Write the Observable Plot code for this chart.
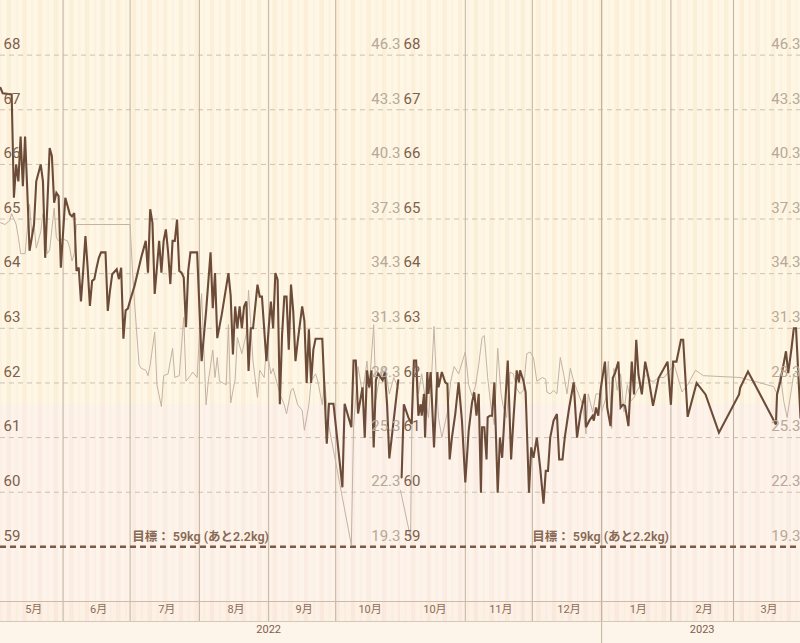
<!DOCTYPE html>
<html>
<head>
<meta charset="utf-8">
<script src="https://cdn.jsdelivr.net/npm/d3@7"></script>
<script src="https://cdn.jsdelivr.net/npm/@observablehq/plot@0.6"></script>
<style>
  html, body { margin: 0; padding: 0; background: #ffffff; }
  #wrap { display: flex; width: 800px; height: 643px; overflow: hidden; }
  #wrap > div { width: 400px; height: 643px; }
</style>
</head>
<body>
<div id="wrap"><div id="left"></div><div id="right"></div></div>
<script>
// ---------- data ----------
const kgTicks = [59, 60, 61, 62, 63, 64, 65, 66, 67, 68];
const fatTicks = [19.3, 22.3, 25.3, 28.3, 31.3, 34.3, 37.3, 40.3, 43.3, 46.3];
const goalKg = 59;
const goalLabel = "目標： 59kg (あと2.2kg)";
const zoneTopKg = 61.6;
const domainLeft = ["2022-05-04", "2022-10-30"];
const domainRight = ["2022-10-03", "2023-03-31"];
const yearLabelsLeft = [["2022-09-01", "2022"]];
const yearLabelsRight = [["2023-02-15", "2023"]];

// weight (kg), left screenshot
const weightLeft = [
["2022-05-04",67.4],["2022-05-05",67.3],["2022-05-09",67.28],["2022-05-10",65.39],["2022-05-11",66.0],["2022-05-12",65.69],["2022-05-13",66.51],["2022-05-14",65.6],["2022-05-15",66.51],["2022-05-16",65.51],["2022-05-17",64.42],["2022-05-19",64.9],["2022-05-20",65.69],["2022-05-22",66.0],["2022-05-23",65.69],["2022-05-24",64.29],["2022-05-26",66.3],["2022-05-27",66.15],["2022-05-28",65.3],["2022-05-29",65.48],["2022-05-30",65.42],["2022-05-31",64.11],["2022-06-02",65.39],["2022-06-04",65.09],["2022-06-05",65.05],["2022-06-06",65.11],["2022-06-07",64.05],["2022-06-08",64.11],["2022-06-09",63.49],["2022-06-10",64.05],["2022-06-11",64.69],["2022-06-12",64.11],["2022-06-13",63.41],["2022-06-14",63.87],["2022-06-15",63.9],["2022-06-16",64.11],["2022-06-17",64.29],["2022-06-18",64.39],["2022-06-20",64.39],["2022-06-21",63.32],["2022-06-22",63.69],["2022-06-23",63.99],["2022-06-25",64.08],["2022-06-26",63.9],["2022-06-27",64.11],["2022-06-28",62.81],["2022-06-29",63.33],["2022-06-30",63.36],["2022-07-01",63.51],["2022-07-03",63.78],["2022-07-06",64.3],["2022-07-08",64.6],["2022-07-09",64.02],["2022-07-10",65.18],["2022-07-11",64.93],["2022-07-12",63.63],["2022-07-14",64.6],["2022-07-15",64.02],["2022-07-16",64.6],["2022-07-17",64.81],["2022-07-18",64.4],["2022-07-19",63.81],["2022-07-20",64.6],["2022-07-21",64.6],["2022-07-22",64.99],["2022-07-23",64.05],["2022-07-24",64.02],["2022-07-25",63.93],["2022-07-26",63.02],["2022-07-27",64.05],["2022-07-28",64.39],["2022-07-31",64.39],["2022-08-02",62.4],["2022-08-04",63.31],["2022-08-06",64.39],["2022-08-07",63.37],["2022-08-08",64.01],["2022-08-09",62.82],["2022-08-11",63.25],["2022-08-14",64.01],["2022-08-15",63.6],["2022-08-16",62.52],["2022-08-17",63.4],["2022-08-18",63.0],["2022-08-19",63.4],["2022-08-20",63.0],["2022-08-21",63.4],["2022-08-22",63.49],["2022-08-23",62.22],["2022-08-24",63.0],["2022-08-25",63.0],["2022-08-27",63.8],["2022-08-28",63.58],["2022-08-29",63.58],["2022-08-31",62.4],["2022-09-01",63.0],["2022-09-02",63.49],["2022-09-03",63.0],["2022-09-04",64.01],["2022-09-05",63.89],["2022-09-06",61.61],["2022-09-07",62.88],["2022-09-08",63.58],["2022-09-09",63.58],["2022-09-10",62.61],["2022-09-11",63.8],["2022-09-12",63.31],["2022-09-13",62.4],["2022-09-14",62.76],["2022-09-16",63.4],["2022-09-17",63.13],["2022-09-18",62.0],["2022-09-19",62.98],["2022-09-20",62.0],["2022-09-21",62.61],["2022-09-22",62.81],["2022-09-25",62.81],["2022-09-27",60.89],["2022-09-28",61.62],["2022-09-30",61.62],["2022-10-04",60.09],["2022-10-05",61.62],["2022-10-08",61.19],["2022-10-09",62.41],["2022-10-10",62.41],["2022-10-11",61.44],["2022-10-13",61.92],["2022-10-14",61.0],["2022-10-15",62.23],["2022-10-16",61.92],["2022-10-17",62.23],["2022-10-18",60.82],["2022-10-19",62.05],["2022-10-20",62.17],["2022-10-22",62.05],["2022-10-23",62.2],["2022-10-24",61.6],["2022-10-25",60.62],["2022-10-29",62.05]
];

// body fat (%), left screenshot, right-hand axis
const fatLeft = [
["2022-05-04",37.1],["2022-05-06",37.0],["2022-05-08",37.2],["2022-05-09",37.6],["2022-05-11",37.0],["2022-05-12",36.3],["2022-05-13",35.4],["2022-05-15",35.4],["2022-05-17",38.1],["2022-05-18",36.5],["2022-05-19",37.0],["2022-05-20",35.7],["2022-05-22",36.6],["2022-05-23",37.6],["2022-05-24",36.3],["2022-05-25",35.4],["2022-05-26",35.6],["2022-05-28",37.9],["2022-05-29",36.3],["2022-05-30",36.1],["2022-06-01",36.2],["2022-06-03",36.1],["2022-06-04",35.7],["2022-06-05",35.0],["2022-06-06",35.4],["2022-06-07",37.0],["2022-07-01",37.0],["2022-07-02",34.6],["2022-07-03",32.7],["2022-07-05",29.3],["2022-07-06",29.1],["2022-07-08",29.0],["2022-07-09",28.7],["2022-07-10",29.3],["2022-07-12",31.1],["2022-07-13",28.2],["2022-07-15",27.0],["2022-07-16",28.7],["2022-07-18",28.8],["2022-07-20",30.2],["2022-07-21",28.6],["2022-07-23",28.7],["2022-07-25",31.9],["2022-07-26",28.4],["2022-07-28",28.7],["2022-07-29",28.9],["2022-07-31",28.6],["2022-08-02",33.2],["2022-08-04",27.1],["2022-08-05",28.4],["2022-08-07",30.1],["2022-08-08",28.6],["2022-08-09",29.7],["2022-08-10",28.4],["2022-08-13",28.2],["2022-08-14",31.5],["2022-08-15",27.2],["2022-08-17",28.5],["2022-08-18",30.8],["2022-08-20",29.9],["2022-08-22",31.0],["2022-08-23",33.4],["2022-08-25",29.5],["2022-08-27",27.5],["2022-08-28",29.0],["2022-08-30",28.6],["2022-08-31",30.3],["2022-09-02",28.8],["2022-09-03",29.1],["2022-09-06",27.7],["2022-09-08",27.1],["2022-09-09",26.6],["2022-09-11",27.9],["2022-09-12",28.0],["2022-09-14",27.1],["2022-09-16",26.8],["2022-09-17",25.7],["2022-09-19",27.1],["2022-09-20",28.4],["2022-09-22",28.8],["2022-09-23",28.4],["2022-09-25",27.1],["2022-09-26",28.4],["2022-09-28",25.9],["2022-10-08",19.4],["2022-10-09",25.9],["2022-10-11",29.2],["2022-10-13",27.7],["2022-10-15",29.5],["2022-10-16",28.0],["2022-10-18",31.5],["2022-10-19",27.4],["2022-10-21",28.9],["2022-10-23",29.2],["2022-10-25",27.7],["2022-10-27",28.6],["2022-10-29",28.0]
];

// weight (kg), right screenshot
const weightRight = [
["2022-10-03T12",60.27],["2022-10-04T12",61.61],["2022-10-06T12",61.37],["2022-10-08",61.25],["2022-10-09",62.41],["2022-10-10",62.41],["2022-10-11",61.4],["2022-10-12",61.61],["2022-10-12T12",61.4],["2022-10-13T12",61.8],["2022-10-14",61.0],["2022-10-15",62.2],["2022-10-15T12",61.8],["2022-10-16T12",62.2],["2022-10-18",60.82],["2022-10-19T12",62.2],["2022-10-20",61.92],["2022-10-21T12",62.2],["2022-10-23",62.01],["2022-10-24",61.98],["2022-10-25",60.6],["2022-10-26",61.0],["2022-10-27T12",61.43],["2022-10-29",62.01],["2022-10-30T12",61.31],["2022-11-01",60.18],["2022-11-02T12",61.12],["2022-11-04",61.64],["2022-11-05",61.83],["2022-11-06",61.4],["2022-11-07",61.8],["2022-11-08",59.99],["2022-11-08T12",61.19],["2022-11-09T12",61.19],["2022-11-10T12",60.6],["2022-11-11",61.37],["2022-11-12",61.4],["2022-11-13",61.4],["2022-11-14",62.01],["2022-11-15T12",59.99],["2022-11-16T12",61.0],["2022-11-17T12",60.63],["2022-11-18T12",61.37],["2022-11-20",62.41],["2022-11-21T12",60.6],["2022-11-22T12",61.31],["2022-11-24",62.23],["2022-11-25",62.01],["2022-11-25T12",62.23],["2022-11-27",62.04],["2022-11-28",61.83],["2022-11-29T12",59.99],["2022-11-30T12",60.82],["2022-12-01T12",60.63],["2022-12-03",61.0],["2022-12-04T12",60.45],["2022-12-06",59.79],["2022-12-07",60.39],["2022-12-08",60.39],["2022-12-09",61.0],["2022-12-10T12",61.31],["2022-12-12",61.43],["2022-12-13",60.6],["2022-12-14T12",60.6],["2022-12-15T12",61.0],["2022-12-17T12",61.55],["2022-12-19T12",62.01],["2022-12-21",61.0],["2022-12-22T12",61.43],["2022-12-24T12",61.8],["2022-12-25",61.19],["2022-12-26T12",61.31],["2022-12-28",61.4],["2022-12-28T12",61.31],["2022-12-29T12",61.55],["2022-12-30T12",61.4],["2022-12-31T12",61.86],["2023-01-01",62.0],["2023-01-02T12",62.39],["2023-01-03T12",61.55],["2023-01-05",61.21],["2023-01-06",62.09],["2023-01-07",62.18],["2023-01-08T12",62.39],["2023-01-09T12",61.55],["2023-01-10T12",61.6],["2023-01-11T12",61.58],["2023-01-13",61.21],["2023-01-14T12",62.39],["2023-01-15T12",61.79],["2023-01-16T12",62.79],["2023-01-17T12",62.15],["2023-01-19",61.79],["2023-01-20T12",62.39],["2023-01-22",62.09],["2023-01-24",61.58],["2023-01-26T12",62.09],["2023-01-30T12",62.39],["2023-02-01",61.6],["2023-02-02",62.39],["2023-02-03T12",62.39],["2023-02-05T12",62.79],["2023-02-06T12",62.79],["2023-02-08T12",61.38],["2023-02-12T12",62.0],["2023-02-16T12",61.79],["2023-02-22T12",61.09],["2023-03-03T12",61.79],["2023-03-04",61.91],["2023-03-07T12",62.21],["2023-03-20",61.24],["2023-03-20T12",61.79],["2023-03-22",62.03],["2023-03-24T12",62.58],["2023-03-25T12",62.18],["2023-03-27",62.64],["2023-03-28",63.0],["2023-03-29",63.0],["2023-03-31",61.36]
];

// body fat (%), right screenshot
const fatRight = [
["2022-10-03",22.4],["2022-10-07T12",19.8],["2022-10-08",25.3],["2022-10-09",29.5],["2022-10-10T12",29.0],["2022-10-11",27.7],["2022-10-12T12",28.8],["2022-10-14",27.5],["2022-10-15T12",26.4],["2022-10-17",28.9],["2022-10-18",31.4],["2022-10-19",28.6],["2022-10-20",26.4],["2022-10-21T12",25.3],["2022-10-24",26.7],["2022-10-25T12",28.4],["2022-10-27",29.2],["2022-10-29",28.8],["2022-11-01",30.0],["2022-11-02T12",28.2],["2022-11-04",27.6],["2022-11-05T12",28.1],["2022-11-07",29.3],["2022-11-08T12",30.8],["2022-11-09T12",30.9],["2022-11-11",28.6],["2022-11-12T12",27.0],["2022-11-14",26.0],["2022-11-15T12",30.2],["2022-11-17",27.7],["2022-11-18",27.0],["2022-11-19T12",26.4],["2022-11-21",28.9],["2022-11-22T12",28.8],["2022-11-24",28.0],["2022-11-25T12",27.7],["2022-11-27",27.9],["2022-11-28T12",29.9],["2022-11-30",30.0],["2022-12-01T12",29.7],["2022-12-03",28.4],["2022-12-05T12",28.6],["2022-12-07",28.5],["2022-12-07T12",27.8],["2022-12-09",27.7],["2022-12-10T12",27.9],["2022-12-12",27.7],["2022-12-13T12",29.7],["2022-12-15",28.8],["2022-12-16T12",27.7],["2022-12-18",29.1],["2022-12-19T12",28.4],["2022-12-21",27.9],["2022-12-23T12",27.1],["2022-12-25",25.5],["2022-12-26",27.7],["2022-12-28",26.7],["2022-12-29T12",27.7],["2022-12-31",27.7],["2023-01-01",26.7],["2023-01-03",27.5],["2023-01-04",29.5],["2023-01-05T12",25.8],["2023-01-06T12",29.1],["2023-01-08",27.9],["2023-01-09T12",28.8],["2023-01-11",26.7],["2023-01-12T12",28.2],["2023-01-14",27.3],["2023-01-15T12",27.5],["2023-01-17",27.9],["2023-01-18T12",28.2],["2023-01-20",28.6],["2023-01-21T12",28.8],["2023-01-23",28.4],["2023-01-24T12",28.4],["2023-01-26T12",28.6],["2023-01-29",28.6],["2023-02-02T12",29.3],["2023-02-06",27.8],["2023-02-08T12",28.2],["2023-02-12",29.0],["2023-02-15T12",28.7],["2023-03-04",28.6],["2023-03-07",28.5],["2023-03-19",28.1],["2023-03-20T12",27.7],["2023-03-22",28.8],["2023-03-23T12",27.3],["2023-03-25",26.4],["2023-03-27",28.0],["2023-03-28",28.8],["2023-03-30",28.9]
];

// ---------- helpers ----------
const parseT = s => new Date(s.length > 10 ? s + ":00Z" : s + "T00:00Z");
// right-hand axis (fat %) expressed on the weight scale: 46.3% ↔ 68kg, 3% per kg
const fatToKg = v => 68 - (46.3 - v) / 3;
const FONT = "Roboto, 'Noto Sans CJK JP', 'Noto Sans', sans-serif";

function panel(domainStr, weight, fat, yearLabels) {
  const start = parseT(domainStr[0]), end = parseT(domainStr[1]);
  const days = d3.utcDay.range(start, end);
  // weekday shade: weekends slightly deeper, mid-week a touch deeper too (soft broad stripes)
  const shade = d => { const w = d.getUTCDay(); return (w === 0 || w === 6) ? 2 : (w === 3 ? 1 : 0); };
  const upper = ["#fef7e5", "#fdf2dd", "#fcefd8"];
  const lower = ["#fdf3eb", "#fbefe6", "#faece2"];
  const band = ["#fdf0e4", "#fbece0", "#f9e8db"];
  const monthStarts = d3.utcMonth.range(d3.utcMonth.ceil(start), end);
  const yearStarts = d3.utcYear.range(d3.utcYear.ceil(start), end);
  const months = d3.utcMonth.range(d3.utcMonth.floor(start), end).map(m => {
    const a = m < start ? start : m;
    const n = d3.utcMonth.offset(m, 1);
    const b = n > end ? end : n;
    return {mid: new Date((+a + +b) / 2), label: (m.getUTCMonth() + 1) + "月"};
  });
  const W = weight.map(([d, v]) => ({date: parseT(d), kg: v}));
  const F = fat.map(([d, v]) => ({date: parseT(d), fat: v}));
  const years = yearLabels.map(([d, t]) => ({date: parseT(d), text: t}));
  const nextDay = d => d3.utcDay.offset(d, 1);

  return Plot.plot({
    width: 400,
    height: 643,
    marginTop: 0,
    marginBottom: 42,
    marginLeft: 0,
    marginRight: 0,
    x: {type: "utc", domain: [start, end], axis: null},
    y: {domain: [58, 69], axis: null},
    style: {background: "#fdf4ea", fontFamily: FONT, overflow: "hidden"},
    marks: [
      // day stripes (upper zone)
      Plot.rect(days, {x1: d => d, x2: nextDay, fill: d => upper[shade(d)]}),
      // lower (pink) zone
      Plot.rect(days, {x1: d => d, x2: nextDay, y1: 58, y2: zoneTopKg, fill: d => lower[shade(d)]}),
      // month row stripes
      Plot.rect(days, {x1: d => d, x2: nextDay, y1: 58, y2: 58, insetBottom: -20, fill: d => band[shade(d)]}),
      // horizontal dashed grid
      Plot.ruleY(kgTicks.filter(v => v !== goalKg), {stroke: "#cdc1b1", strokeWidth: 1, strokeDasharray: "5,4"}),
      // month separators
      Plot.ruleX(monthStarts, {stroke: "#c2b29e", strokeWidth: 1, insetBottom: -20}),
      Plot.ruleX(yearStarts, {stroke: "#c2b29e", strokeWidth: 1, insetBottom: -42}),
      // axis band lines
      Plot.ruleY([58], {stroke: "#cbbba8", strokeWidth: 1}),
      Plot.ruleY([58], {stroke: "#d6c8b6", strokeWidth: 1, dy: 20}),
      // goal
      Plot.ruleY([goalKg], {stroke: "#7a5a46", strokeWidth: 2.5, strokeDasharray: "6,4"}),
      // body fat line (right axis)
      Plot.line(F, {x: "date", y: d => fatToKg(d.fat), stroke: "#c4b3a3", strokeWidth: 1}),
      // weight line
      Plot.line(W, {x: "date", y: "kg", stroke: "#6c4c39", strokeWidth: 2.1, strokeLinejoin: "miter", strokeMiterlimit: 3}),
      // left tick labels (kg)
      Plot.text(kgTicks, {y: d => d, text: d => String(d), frameAnchor: "left", textAnchor: "start", dx: 3, dy: -11, fill: "#7d604c", fontSize: 15}),
      // right tick labels (fat %)
      Plot.text(fatTicks, {y: fatToKg, text: d => d.toFixed(1), frameAnchor: "right", textAnchor: "end", dx: 0, dy: -11, fill: "#b7a898", fontSize: 15}),
      // goal label
      Plot.text([goalLabel], {y: goalKg, text: d => d, frameAnchor: "middle", dy: -10, fill: "#876955", fontSize: 12.5, fontWeight: 600}),
      // month labels
      Plot.text(months, {x: "mid", text: "label", frameAnchor: "bottom", dy: 11, dx: 2, fill: "#8a6c58", fontSize: 11}),
      // year labels
      Plot.text(years, {x: "date", text: "text", frameAnchor: "bottom", dy: 31, fill: "#7d604c", fontSize: 11})
    ]
  });
}

document.getElementById("left").append(panel(domainLeft, weightLeft, fatLeft, yearLabelsLeft));
document.getElementById("right").append(panel(domainRight, weightRight, fatRight, yearLabelsRight));
</script>
</body>
</html>
